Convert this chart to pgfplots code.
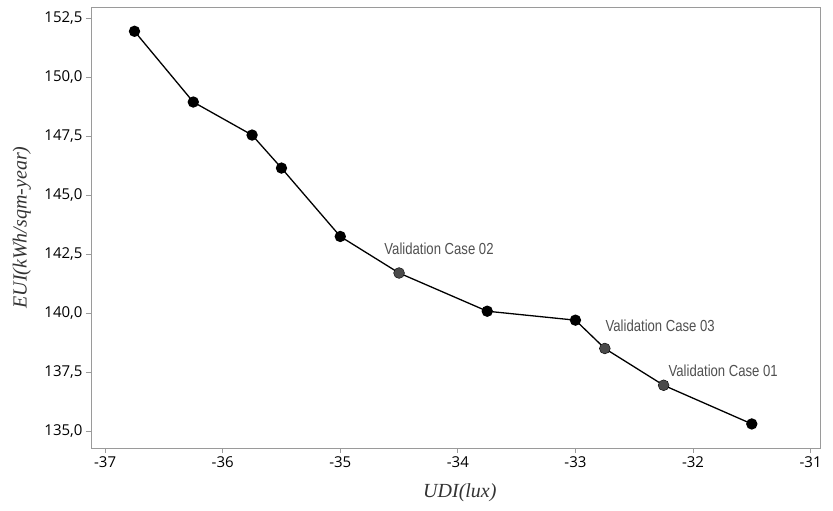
\documentclass[border=0pt]{standalone}
\usepackage{fontspec}
\setmainfont{Liberation Serif}
\newfontfamily\tickfont{Open Sans}
\newfontfamily\notefont{Liberation Sans}
\usepackage{graphicx}
\usepackage{pgfplots}
\pgfplotsset{compat=1.18}
\definecolor{framegray}{HTML}{9A9A9A}
\definecolor{valgray}{HTML}{4A4A4A}
\definecolor{notegray}{HTML}{505050}
\begin{document}
\begin{tikzpicture}
\useasboundingbox (0,0) rectangle (833pt,511pt);
\begin{axis}[
  at={(91pt,63pt)}, anchor=south west,
  width=729pt, height=441pt, scale only axis,
  xmin=-37.12, xmax=-30.92,
  ymin=134.28, ymax=152.98,
  xtick={-37,-36,-35,-34,-33,-32,-31},
  ytick={135,137.5,140,142.5,145,147.5,150,152.5},
  axis line style={framegray, line width=0.8pt},
  tick style={framegray, line width=0.8pt},
  tick align=outside, major tick length=5pt,
  xtick pos=bottom, ytick pos=left,
  /pgf/number format/assume math mode=true,
  ticklabel style={font=\tickfont\fontsize{15}{15}\selectfont, text=black},
  yticklabel style={/pgf/number format/.cd, fixed, fixed zerofill, precision=1, use comma},
  xticklabel style={/pgf/number format/.cd, fixed, precision=0},
  xlabel={\itshape UDI(lux)},
  ylabel={\itshape EUI(kWh/sqm-year)},
  label style={font=\fontsize{20}{20}\selectfont, text=black!80},
  xlabel style={at={(axis description cs:0.506,-0.102)}, anchor=center},
  ylabel style={at={(axis description cs:-0.095,0.5)}, anchor=center},
  clip=false,
]
\addplot[black, line width=1.3pt, mark=*, mark size=5pt, mark options={black}]
coordinates {
(-36.75,151.95) (-36.25,148.95) (-35.75,147.55) (-35.5,146.15) (-35,143.25)
(-34.5,141.7) (-33.75,140.08) (-33,139.7) (-32.75,138.5) (-32.25,136.94) (-31.5,135.3)
};
\addplot[only marks, mark=*, mark size=4.9pt, mark options={valgray, draw=valgray}]
coordinates { (-34.5,141.7) (-32.75,138.5) (-32.25,136.94) };
\node[anchor=west, inner sep=0pt, text=notegray, font=\notefont\fontsize{16}{16}\selectfont] at (axis cs:-34.626,142.74) {\scalebox{0.82}[1]{Validation Case 02}};
\node[anchor=west, inner sep=0pt, text=notegray, font=\notefont\fontsize{16}{16}\selectfont] at (axis cs:-32.745,139.48) {\scalebox{0.82}[1]{Validation Case 03}};
\node[anchor=west, inner sep=0pt, text=notegray, font=\notefont\fontsize{16}{16}\selectfont] at (axis cs:-32.209,137.57) {\scalebox{0.82}[1]{Validation Case 01}};
\end{axis}
\end{tikzpicture}
\end{document}
